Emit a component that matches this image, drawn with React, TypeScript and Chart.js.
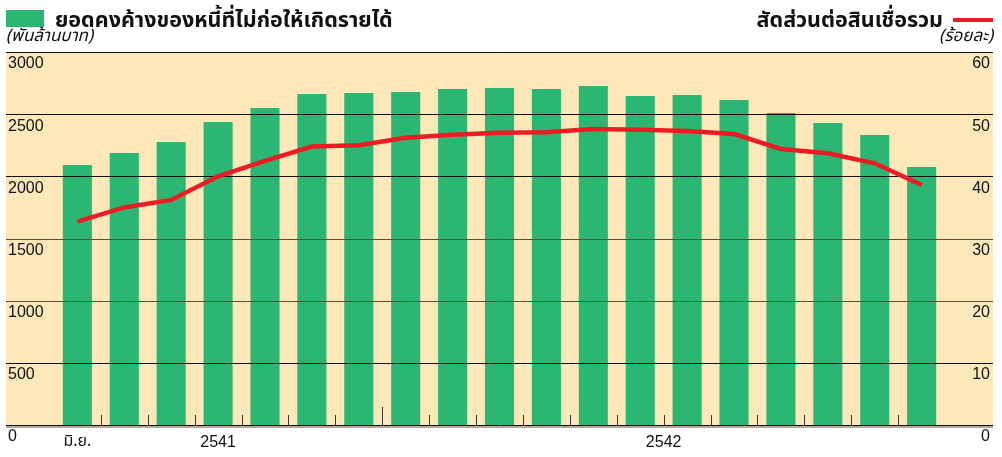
import React, { useEffect, useRef } from "react";
import { Chart, registerables } from "chart.js";

Chart.register(...registerables);

// ---- data ----
const months = [
  "มิ.ย.", "ก.ค.", "ส.ค.", "ก.ย.", "ต.ค.", "พ.ย.", "ธ.ค.",
  "ม.ค.", "ก.พ.", "มี.ค.", "เม.ย.", "พ.ค.", "มิ.ย.", "ก.ค.", "ส.ค.", "ก.ย.", "ต.ค.", "พ.ย.", "ธ.ค.",
];
const yearLabels = ["2541", "2542"];
const yearStartIndex = [0, 7]; // index in months where each year starts
const npl = [
  2091, 2188, 2276, 2437, 2550, 2662, 2670, 2678, 2702, 2711,
  2702, 2727, 2646, 2654, 2614, 2509, 2429, 2332, 2075,
];
const ratio = [
  32.7, 35.0, 36.2, 40.0, 42.5, 44.8, 45.0, 46.2, 46.7, 47.0,
  47.1, 47.6, 47.5, 47.3, 46.8, 44.4, 43.7, 42.1, 38.6,
];
const leftTicks = [0, 500, 1000, 1500, 2000, 2500, 3000];
const rightTicks = [0, 10, 20, 30, 40, 50, 60];

const titleLeft = "ยอดคงค้างของหนี้ที่ไม่ก่อให้เกิดรายได้";
const unitLeft = "(พันล้านบาท)";
const titleRight = "สัดส่วนต่อสินเชื่อรวม";
const unitRight = "(ร้อยละ)";

const GREEN = "#2BB673";
const RED = "#ED1C24";
const BG = "#FDE8BA";
const THAI = "Tahoma, 'Noto Sans Thai', 'Liberation Sans', sans-serif";
const NUM = "'Liberation Sans', Arial, sans-serif";

export default function App() {
  const ref = useRef<HTMLCanvasElement | null>(null);

  useEffect(() => {
    const canvas = ref.current;
    if (!canvas) return;
    const labels = ["", ...months, ""];
    const barData = [null, ...npl, null];
    const lineData = [null, ...ratio, null];

    const decor = {
      id: "decor",
      beforeDraw(chart: any) {
        const { ctx, chartArea: a } = chart;
        ctx.save();
        ctx.fillStyle = BG;
        ctx.fillRect(a.left - 1, a.top, a.right - a.left + 2, a.bottom - a.top);
        ctx.restore();
      },
      afterDatasetDraw(chart: any, args: any) {
        if (args.meta.type !== "bar") return;
        const { ctx, chartArea: a } = chart;
        const y = chart.scales.y;
        ctx.save();
        ctx.lineWidth = 1;
        leftTicks.forEach((v) => {
          if (v === 0) return;
          const py = Math.round(y.getPixelForValue(v)) + 0.5;
          ctx.strokeStyle = v === 1500 || v === 1000 ? "#5c4e38" : "#111";
          ctx.beginPath();
          ctx.moveTo(a.left - 1, py);
          ctx.lineTo(a.right + 1, py);
          ctx.stroke();
        });
        ctx.restore();
      },
      afterDraw(chart: any) {
        const { ctx, chartArea: a } = chart;
        const x = chart.scales.x;
        const L = a.left - 1;
        const R = a.right + 1;
        ctx.save();
        // baseline
        const by = Math.round(a.bottom) + 0.5;
        ctx.strokeStyle = "#b0a898";
        ctx.lineWidth = 2;
        ctx.beginPath();
        ctx.moveTo(L, by + 1.5);
        ctx.lineTo(R, by + 1.5);
        ctx.stroke();
        ctx.strokeStyle = "#111";
        ctx.lineWidth = 1;
        ctx.beginPath();
        ctx.moveTo(L, by);
        ctx.lineTo(R, by);
        ctx.stroke();
        // tick marks between bars
        ctx.strokeStyle = "#3b3325";
        for (let i = 1; i < months.length; i++) {
          const px = Math.round((x.getPixelForValue(i) + x.getPixelForValue(i + 1)) / 2) + 0.5;
          const len = yearStartIndex.includes(i) ? 18 : 10;
          ctx.beginPath();
          ctx.moveTo(px, a.bottom);
          ctx.lineTo(px, a.bottom - len);
          ctx.stroke();
        }
        // x labels
        ctx.fillStyle = "#111";
        ctx.textBaseline = "middle";
        ctx.textAlign = "center";
        ctx.font = `16px ${THAI}`;
        ctx.fillText(months[0], x.getPixelForValue(1), a.bottom + 18);
        ctx.font = `16px ${NUM}`;
        yearLabels.forEach((yl, k) => {
          const s = yearStartIndex[k];
          const e = k + 1 < yearStartIndex.length ? yearStartIndex[k + 1] - 1 : months.length - 1;
          const cx = x.getPixelForValue((s + e) / 2 + 1);
          ctx.fillText(yl, cx, a.bottom + 18);
        });
        // top border
        ctx.strokeStyle = "#111";
        ctx.lineWidth = 1;
        ctx.beginPath();
        ctx.moveTo(L, Math.round(a.top) + 0.5);
        ctx.lineTo(R, Math.round(a.top) + 0.5);
        ctx.stroke();
        // header left
        ctx.fillStyle = GREEN;
        ctx.fillRect(L, 10, 38, 17);
        ctx.fillStyle = "#111";
        ctx.textBaseline = "alphabetic";
        ctx.textAlign = "left";
        ctx.font = `bold 21.5px ${THAI}`;
        ctx.fillText(titleLeft, 55, 27);
        ctx.font = `italic 17px ${THAI}`;
        ctx.fillText(unitLeft, L, 41);
        // header right
        ctx.textAlign = "right";
        ctx.font = `bold 21.5px ${THAI}`;
        ctx.fillText(titleRight, 943, 27);
        ctx.font = `italic 17px ${THAI}`;
        ctx.fillText(unitRight, R, 41);
        ctx.strokeStyle = RED;
        ctx.lineWidth = 4;
        ctx.beginPath();
        ctx.moveTo(953, 20);
        ctx.lineTo(R, 20);
        ctx.stroke();
        ctx.restore();
      },
    };

    const chart = new Chart(canvas, {
      data: {
        labels,
        datasets: [
          {
            type: "line",
            data: lineData as any,
            yAxisID: "y1",
            borderColor: RED,
            borderWidth: 4.5,
            pointRadius: 0,
            tension: 0,
            order: 0,
          },
          {
            type: "bar",
            data: barData as any,
            yAxisID: "y",
            backgroundColor: GREEN,
            barPercentage: 0.62,
            categoryPercentage: 1,
            order: 1,
          },
        ],
      },
      options: {
        responsive: false,
        animation: false,
        devicePixelRatio: 1,
        layout: { padding: { left: 7, right: 10, top: 52, bottom: 32 } },
        plugins: { legend: { display: false }, tooltip: { enabled: false } },
        scales: {
          x: { type: "category", offset: true, display: false },
          y: {
            position: "left",
            min: 0,
            max: 3000,
            afterFit: (s: any) => { s.width = 0; },
            afterBuildTicks: (s: any) => { s.ticks = leftTicks.map((v) => ({ value: v })); },
            grid: { display: false, drawTicks: false },
            border: { display: false },
            ticks: {
              mirror: true,
              padding: 1,
              labelOffset: 12,
              color: "#111",
              font: { family: NUM, size: 16 },
              callback: (v: any) => String(v),
            },
          },
          y1: {
            position: "right",
            min: 0,
            max: 60,
            afterFit: (s: any) => { s.width = 0; },
            afterBuildTicks: (s: any) => { s.ticks = rightTicks.map((v) => ({ value: v })); },
            grid: { display: false, drawTicks: false },
            border: { display: false },
            ticks: {
              mirror: true,
              padding: -2,
              labelOffset: 12,
              color: "#111",
              font: { family: NUM, size: 16 },
              callback: (v: any) => String(v),
            },
          },
        },
      },
      plugins: [decor],
    } as any);
    return () => chart.destroy();
  }, []);

  return (
    <div style={{ position: "fixed", left: 0, top: 0, width: 1002, height: 457, background: "#fff" }}>
      <canvas ref={ref} width={1002} height={457} style={{ width: 1002, height: 457, display: "block" }} />
    </div>
  );
}
